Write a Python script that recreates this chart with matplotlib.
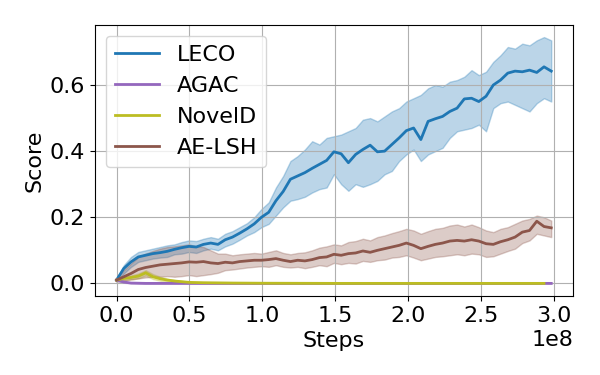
import numpy as np
import matplotlib
matplotlib.use("Agg")
import matplotlib.pyplot as plt

# shared step grid (in units of 1e8), 61 samples from 0 to 2.98
steps = np.linspace(0, 2.98, 61) * 1e8

leco_mean = [0.010, 0.045, 0.065, 0.080, 0.085, 0.090, 0.093, 0.097, 0.103, 0.108,
             0.112, 0.110, 0.118, 0.122, 0.118, 0.132, 0.140, 0.152, 0.165, 0.180,
             0.200, 0.215, 0.250, 0.278, 0.315, 0.325, 0.335, 0.348, 0.360, 0.372,
             0.398, 0.392, 0.365, 0.390, 0.405, 0.418, 0.398, 0.400, 0.420, 0.440,
             0.462, 0.470, 0.435, 0.490, 0.498, 0.505, 0.520, 0.530, 0.558, 0.560,
             0.550, 0.566, 0.600, 0.615, 0.636, 0.642, 0.640, 0.645, 0.638, 0.655,
             0.642]
leco_upper = [0.015, 0.055, 0.080, 0.095, 0.100, 0.105, 0.110, 0.115, 0.118, 0.125,
              0.130, 0.128, 0.135, 0.140, 0.135, 0.150, 0.158, 0.170, 0.182, 0.200,
              0.225, 0.245, 0.290, 0.325, 0.370, 0.385, 0.405, 0.430, 0.420, 0.440,
              0.445, 0.450, 0.460, 0.470, 0.495, 0.500, 0.490, 0.505, 0.520, 0.530,
              0.550, 0.560, 0.570, 0.590, 0.600, 0.595, 0.610, 0.615, 0.625, 0.645,
              0.630, 0.640, 0.670, 0.690, 0.715, 0.710, 0.725, 0.720, 0.735, 0.745,
              0.735]
leco_lower = [0.005, 0.030, 0.050, 0.065, 0.070, 0.075, 0.078, 0.080, 0.088, 0.090,
              0.095, 0.092, 0.100, 0.105, 0.100, 0.112, 0.120, 0.132, 0.145, 0.155,
              0.170, 0.180, 0.205, 0.230, 0.250, 0.255, 0.262, 0.275, 0.285, 0.290,
              0.330, 0.300, 0.280, 0.300, 0.292, 0.300, 0.310, 0.330, 0.340, 0.370,
              0.390, 0.405, 0.370, 0.390, 0.400, 0.410, 0.440, 0.460, 0.465, 0.470,
              0.480, 0.460, 0.530, 0.545, 0.550, 0.540, 0.530, 0.520, 0.545, 0.560,
              0.550]

aelsh_mean = [0.010, 0.020, 0.030, 0.042, 0.048, 0.052, 0.056, 0.058, 0.060, 0.062,
              0.065, 0.064, 0.066, 0.062, 0.060, 0.064, 0.062, 0.066, 0.068, 0.070,
              0.070, 0.072, 0.075, 0.070, 0.066, 0.070, 0.068, 0.072, 0.078, 0.080,
              0.088, 0.085, 0.090, 0.092, 0.098, 0.094, 0.100, 0.105, 0.110, 0.115,
              0.122, 0.115, 0.105, 0.112, 0.118, 0.122, 0.128, 0.130, 0.128, 0.132,
              0.128, 0.120, 0.118, 0.126, 0.132, 0.140, 0.155, 0.160, 0.188, 0.172,
              0.168]
aelsh_upper = [0.015, 0.040, 0.060, 0.080, 0.090, 0.098, 0.105, 0.110, 0.112, 0.115,
               0.118, 0.112, 0.110, 0.100, 0.090, 0.090, 0.085, 0.088, 0.090, 0.092,
               0.090, 0.095, 0.100, 0.092, 0.088, 0.092, 0.094, 0.100, 0.108, 0.112,
               0.118, 0.115, 0.125, 0.128, 0.135, 0.130, 0.140, 0.145, 0.152, 0.158,
               0.165, 0.160, 0.150, 0.158, 0.165, 0.168, 0.175, 0.178, 0.172, 0.178,
               0.170, 0.160, 0.155, 0.165, 0.170, 0.180, 0.190, 0.195, 0.205, 0.200,
               0.190]
aelsh_lower = [0.005, 0.008, 0.012, 0.015, 0.018, 0.020, 0.020, 0.022, 0.020, 0.022,
               0.025, 0.022, 0.025, 0.028, 0.032, 0.040, 0.042, 0.045, 0.048, 0.050,
               0.052, 0.050, 0.055, 0.050, 0.048, 0.050, 0.046, 0.050, 0.055, 0.052,
               0.062, 0.058, 0.062, 0.060, 0.068, 0.065, 0.070, 0.072, 0.078, 0.080,
               0.085, 0.078, 0.070, 0.075, 0.080, 0.082, 0.085, 0.088, 0.085, 0.090,
               0.088, 0.080, 0.082, 0.090, 0.098, 0.105, 0.122, 0.130, 0.150, 0.145,
               0.140]

noveld_steps = np.array([0, 0.05, 0.1, 0.15, 0.2, 0.25, 0.3, 0.35, 0.4, 0.5,
                         0.6, 0.8, 1.0, 1.5, 2.0, 2.5, 2.93]) * 1e8
noveld_mean = [0.010, 0.015, 0.018, 0.022, 0.032, 0.020, 0.014, 0.010, 0.007, 0.003,
               0.002, 0.001, 0.0005, 0.0, 0.0, 0.0, 0.0]
noveld_upper = [0.012, 0.020, 0.024, 0.030, 0.040, 0.028, 0.020, 0.014, 0.010, 0.005,
                0.003, 0.002, 0.001, 0.0005, 0.0005, 0.0005, 0.0005]
noveld_lower = [0.008, 0.010, 0.012, 0.015, 0.024, 0.013, 0.008, 0.006, 0.004, 0.001,
                0.001, 0.0, 0.0, 0.0, 0.0, 0.0, 0.0]

agac_steps = np.array([0, 0.05, 0.1, 0.2, 0.5, 1.0, 2.0, 2.98]) * 1e8
agac_mean = [0.010, 0.004, 0.001, 0.0, 0.0, 0.0, 0.0, 0.0]
agac_upper = [0.012, 0.006, 0.002, 0.0005, 0.0005, 0.0005, 0.0005, 0.0005]
agac_lower = [0.008, 0.002, 0.0, -0.0005, -0.0005, -0.0005, -0.0005, -0.0005]

series = [
    ("LECO", steps, leco_mean, leco_lower, leco_upper, "#1f77b4"),
    ("AGAC", agac_steps, agac_mean, agac_lower, agac_upper, "#9467bd"),
    ("NovelD", noveld_steps, noveld_mean, noveld_lower, noveld_upper, "#bcbd22"),
    ("AE-LSH", steps, aelsh_mean, aelsh_lower, aelsh_upper, "#8c564b"),
]

plt.rcParams['font.size'] = 16
fig, ax = plt.subplots(figsize=(6, 3.75), dpi=100)
fig.subplots_adjust(left=0.158, right=0.955, top=0.934, bottom=0.211)

for name, x, m, lo, hi, c in series:
    ax.fill_between(x, lo, hi, color=c, alpha=0.3)
    ax.plot(x, m, color=c, lw=2, label=name)

ax.set_xlabel("Steps")
ax.set_ylabel("Score")
ax.set_xticks(np.arange(0, 3.01, 0.5) * 1e8)
ax.set_yticks([0.0, 0.2, 0.4, 0.6])
ax.grid(True)
ax.legend(loc="upper left")

fig.savefig("out.png")
